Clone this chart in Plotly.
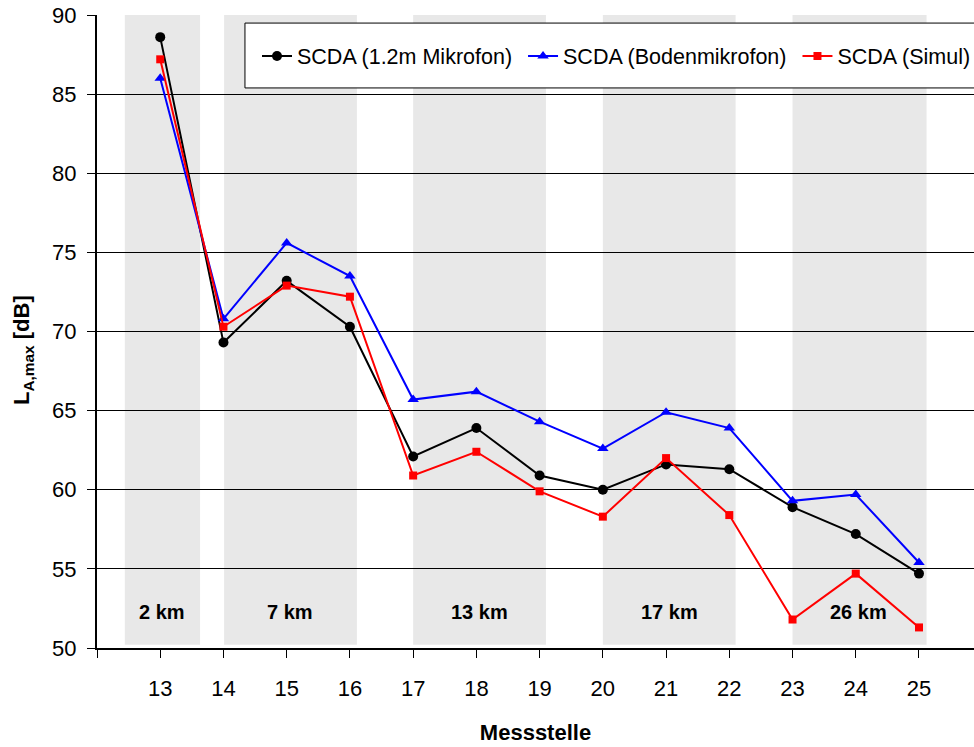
import plotly.graph_objects as go

stations = [13, 14, 15, 16, 17, 18, 19, 20, 21, 22, 23, 24, 25]
mic_12m = [88.6, 69.3, 73.2, 70.3, 62.1, 63.9, 60.9, 60.0, 61.6, 61.3, 58.9, 57.2, 54.7]
mic_ground = [86.0, 70.8, 75.6, 73.5, 65.7, 66.2, 64.3, 62.6, 64.9, 63.9, 59.3, 59.7, 55.4]
simul = [87.2, 70.3, 72.9, 72.2, 60.9, 62.4, 59.9, 58.3, 62.0, 58.4, 51.8, 54.7, 51.3]

band_starts = [12.44, 14.01, 17.0, 20.0, 23.0]
band_ends = [13.63, 16.11, 19.1, 22.1, 25.12]
band_labels = ["2 km", "7 km", "13 km", "17 km", "26 km"]
band_label_x = [13.03, 15.05, 18.05, 21.05, 24.04]
band_label_y = 52.3

series_names = ["SCDA (1.2m Mikrofon)", "SCDA (Bodenmikrofon)", "SCDA (Simul)"]
yticks = [50, 55, 60, 65, 70, 75, 80, 85, 90]
xtick_vals = list(range(12, 26))
xtick_text = [""] + [str(s) for s in stations]

FONT = "Liberation Sans, Arial, sans-serif"
PAD = "\u00a0"

fig = go.Figure()
fig.add_trace(go.Scatter(x=stations, y=mic_12m, name=series_names[0] + PAD, mode="lines+markers",
                         line=dict(color="black", width=2),
                         marker=dict(symbol="circle", size=10, color="black")))
fig.add_trace(go.Scatter(x=stations, y=mic_ground, name=series_names[1] + PAD, mode="lines+markers",
                         line=dict(color="#0000FF", width=2),
                         marker=dict(symbol="triangle-up", size=10, color="#0000FF")))
fig.add_trace(go.Scatter(x=stations, y=simul, name=series_names[2], mode="lines+markers",
                         line=dict(color="#FF0000", width=2),
                         marker=dict(symbol="square", size=8, color="#FF0000")))

shapes = []
for x0, x1 in zip(band_starts, band_ends):
    shapes.append(dict(type="rect", xref="x", yref="y", x0=x0, x1=x1, y0=50.2, y1=90,
                       fillcolor="#E8E8E8", line=dict(width=0), layer="below"))
# legend frame, drawn in the subplot's own shape layer so it covers the bands
shapes.append(dict(type="rect", xref="x", yref="y",
                   x0=14.34, x1=27.0, y0=85.39, y1=89.49,
                   fillcolor="white", line=dict(color="black", width=1), layer="below"))

annotations = []
for lx, lab in zip(band_label_x, band_labels):
    annotations.append(dict(x=lx, y=band_label_y, xref="x", yref="y", text="<b>%s</b>" % lab,
                            showarrow=False, font=dict(size=20, color="black", family=FONT)))
annotations.append(dict(x=(23 - 97) / 877, y=(648 - 350) / 633, xref="paper", yref="paper",
                        text="<b>L<sub>A,max</sub> [dB]</b>", textangle=-90, showarrow=False,
                        xanchor="center", yanchor="middle",
                        font=dict(size=22, color="black", family=FONT)))

fig.update_layout(
    width=974, height=747,
    margin=dict(l=97, r=0, t=15, b=99, autoexpand=False),
    paper_bgcolor="white", plot_bgcolor="white",
    font=dict(family=FONT, color="black"),
    shapes=shapes, annotations=annotations,
    showlegend=True,
    legend=dict(orientation="h", x=(257 - 97) / 877, y=(648 - 56) / 633, xanchor="left", yanchor="middle",
                bgcolor="rgba(0,0,0,0)", borderwidth=0, font=dict(size=21.5, family=FONT)),
    xaxis=dict(range=[12, 25.87], tickmode="array", tickvals=xtick_vals, ticktext=xtick_text,
               showgrid=False, zeroline=False, showline=True, linecolor="black", linewidth=2,
               ticks="outside", ticklen=8, tickwidth=1, tickcolor="black",
               ticklabelstandoff=12,
               tickfont=dict(size=22, family=FONT),
               title=dict(text="<b>Messstelle</b>", font=dict(size=22, family=FONT), standoff=24)),
    yaxis=dict(range=[50, 90], tickmode="array", tickvals=yticks,
               showgrid=True, gridcolor="black", gridwidth=1, zeroline=False,
               showline=True, linecolor="black", linewidth=2,
               ticks="outside", ticklen=8, tickwidth=1, tickcolor="black",
               ticklabelstandoff=6,
               tickfont=dict(size=22, family=FONT)),
)

fig.write_html("out.html")
